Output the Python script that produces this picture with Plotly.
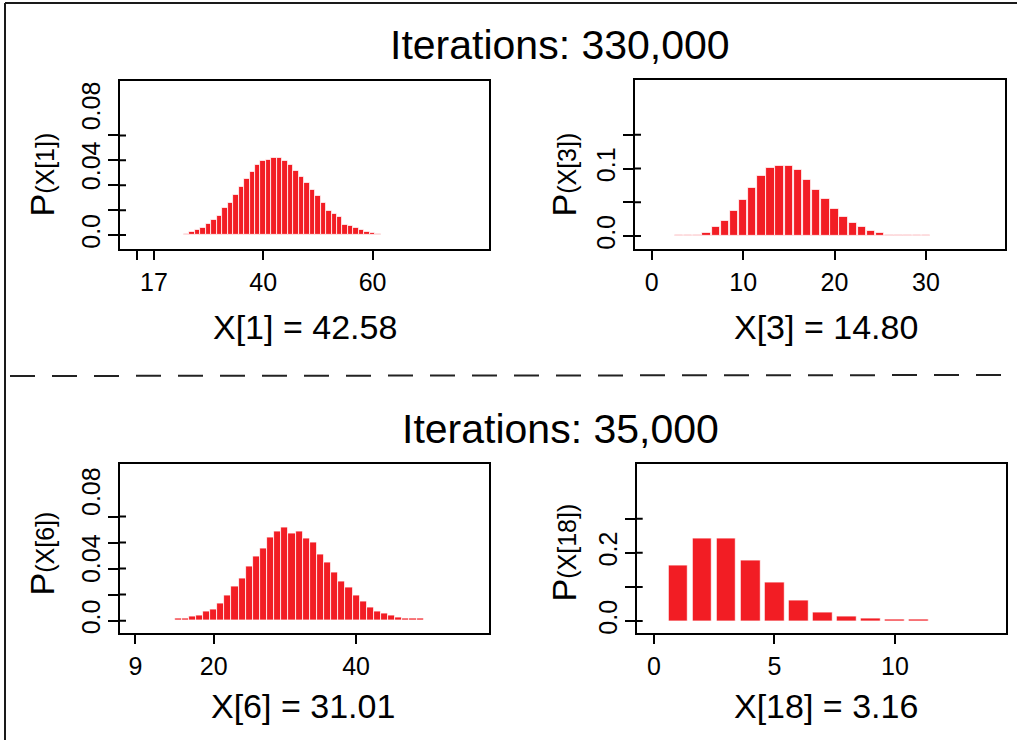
import plotly.graph_objects as go

W, H = 1017, 742
RED = "#F21D24"
FONT = "Liberation Sans, Arial, Helvetica, sans-serif"

# ---------------- data ----------------
titles = ["Iterations: 330,000", "Iterations: 35,000"]

x1_vals = list(range(26, 62))
p1 = [0.0010, 0.0027, 0.0043, 0.0060, 0.0088, 0.0123, 0.0155, 0.0216, 0.0260,
      0.0325, 0.0390, 0.0453, 0.0512, 0.0565, 0.0597, 0.0608, 0.0624, 0.0624,
      0.0597, 0.0565, 0.0515, 0.0467, 0.0420, 0.0363, 0.0312, 0.0260, 0.0197,
      0.0170, 0.0144, 0.0085, 0.0077, 0.0060, 0.0043, 0.0024, 0.0016, 0.0010]

x3_vals = list(range(3, 31))
p3 = [0.0025, 0.0025, 0.0025, 0.0054, 0.0143, 0.0227, 0.0374, 0.0542, 0.0719,
      0.0892, 0.1010, 0.1040, 0.1040, 0.0975, 0.0837, 0.0690, 0.0547, 0.0399,
      0.0286, 0.0192, 0.0138, 0.0079, 0.0054, 0.0025, 0.0025, 0.0025, 0.0022,
      0.0022]

x6_vals = list(range(15, 50))
p6 = [0.0015, 0.0015, 0.0030, 0.0043, 0.0074, 0.0089, 0.0133, 0.0194, 0.0265,
      0.0327, 0.0418, 0.0495, 0.0556, 0.0643, 0.0689, 0.0719, 0.0673, 0.0689,
      0.0628, 0.0599, 0.0508, 0.0446, 0.0372, 0.0298, 0.0253, 0.0194, 0.0151,
      0.0102, 0.0074, 0.0056, 0.0041, 0.0028, 0.0015, 0.0015, 0.0015]

x18_vals = list(range(1, 12))
p18 = [0.162, 0.242, 0.242, 0.178, 0.112, 0.060, 0.025, 0.013, 0.007, 0.006, 0.005]

x_titles = ["X[1] = 42.58", "X[3] = 14.80", "X[6] = 31.01", "X[18] = 3.16"]
y_names = ["(X[1])", "(X[3])", "(X[6])", "(X[18])"]

x1_tickvals = [17, 20, 40, 60]
x1_ticktext = ["", "17", "40", "60"]
x3_tickvals = [0, 10, 20, 30]
x3_ticktext = ["0", "10", "20", "30"]
x6_tickvals = [9, 20, 40]
x6_ticktext = ["9", "20", "40"]
x18_tickvals = [0, 5, 10]
x18_ticktext = ["0", "5", "10"]

y1_labelvals = [0.0, 0.0526, 0.1006]
y1_labeltext = ["0.0", "0.04", "0.08"]
y1_marks = [0.0, 0.02, 0.04, 0.06, 0.08]
y3_labelvals = [0.0, 0.1]
y3_labeltext = ["0.0", "0.1"]
y3_marks = [0.0, 0.05, 0.10, 0.15]
y6_labelvals = [0.0, 0.0447, 0.0962]
y6_labeltext = ["0.0", "0.04", "0.08"]
y6_marks = [0.0, 0.02, 0.04, 0.06, 0.08]
y18_labelvals = [0.0, 0.2]
y18_labeltext = ["0.0", "0.2"]
y18_marks = [0.0, 0.1, 0.2, 0.3]

# ---------------- layout helpers ----------------
def px_x(p):
    return p / W


def px_y(p):
    return 1 - p / H


def xax(dom, rng, tv, tt, anchor):
    return dict(domain=[px_x(dom[0]), px_x(dom[1])], range=rng, tickvals=tv, ticktext=tt,
                ticks="outside", ticklen=9, tickwidth=2, tickcolor="black",
                showline=True, linecolor="black", linewidth=2, mirror=True,
                showgrid=False, zeroline=False, anchor=anchor,
                ticklabelstandoff=1,
                tickfont=dict(size=25, family=FONT, color="black"))


def yax(dom, rng, lv, lt, marks, anchor):
    return dict(domain=[px_y(dom[1]), px_y(dom[0])], range=rng, tickvals=lv, ticktext=lt,
                ticks="outside", ticklen=8, tickcolor="rgba(0,0,0,0)", tickangle=-90,
                minor=dict(tickvals=marks, ticks="outside", ticklen=10, tickwidth=2,
                           tickcolor="black", showgrid=False),
                showline=True, linecolor="black", linewidth=2, mirror=True,
                showgrid=False, zeroline=False, anchor=anchor,
                tickfont=dict(size=25, family=FONT, color="black"))


fig = go.Figure()
bar_line = dict(color="white", width=0.8)
fig.add_trace(go.Bar(x=x1_vals, y=p1, width=1.0, marker=dict(color=RED, line=bar_line),
                     xaxis="x", yaxis="y", showlegend=False))
fig.add_trace(go.Bar(x=x3_vals, y=p3, width=0.92, marker=dict(color=RED, line=bar_line),
                     xaxis="x2", yaxis="y2", showlegend=False))
fig.add_trace(go.Bar(x=x6_vals, y=p6, width=1.0, marker=dict(color=RED, line=bar_line),
                     xaxis="x3", yaxis="y3", showlegend=False))
fig.add_trace(go.Bar(x=x18_vals, y=p18, width=0.82, marker=dict(color=RED, line=bar_line),
                     xaxis="x4", yaxis="y4", showlegend=False))

panels = [
    ((120, 489), (81, 250)),
    ((635, 1005), (80, 250)),
    ((120, 489), (465.7, 635)),
    ((636.7, 1005.7), (465.7, 634.3)),
]

fig.update_layout(
    width=W, height=H, margin=dict(l=0, r=0, t=0, b=0),
    paper_bgcolor="white", plot_bgcolor="white", bargap=0,
    font=dict(family=FONT, color="black"),
    xaxis=xax(panels[0][0], [13.8, 81.3], x1_tickvals, x1_ticktext, "y"),
    yaxis=yax(panels[0][1], [-0.0114, 0.1238], y1_labelvals, y1_labeltext, y1_marks, "x"),
    xaxis2=xax(panels[1][0], [-1.83, 38.65], x3_tickvals, x3_ticktext, "y2"),
    yaxis2=yax(panels[1][1], [-0.0196, 0.2315], y3_labelvals, y3_labeltext, y3_marks, "x2"),
    xaxis3=xax(panels[2][0], [6.84, 58.67], x6_tickvals, x6_ticktext, "y3"),
    yaxis3=yax(panels[2][1], [-0.0097, 0.12], y6_labelvals, y6_labeltext, y6_marks, "x3"),
    xaxis4=xax(panels[3][0], [-0.72, 14.6], x18_tickvals, x18_ticktext, "y4"),
    yaxis4=yax(panels[3][1], [-0.034, 0.459], y18_labelvals, y18_labeltext, y18_marks, "x4"),
)

ann = []
# panel titles
for t, (cx, cy) in zip(titles, [(560, 45), (560, 430)]):
    ann.append(dict(text=t, x=px_x(cx), y=px_y(cy), xref="paper", yref="paper",
                    showarrow=False, xanchor="center", yanchor="middle",
                    font=dict(size=41, family=FONT, color="black")))
# x titles
for t, (cx, cy) in zip(x_titles, [(305, 328), (826, 328), (303, 708), (826, 708)]):
    ann.append(dict(text=t, x=px_x(cx), y=px_y(cy), xref="paper", yref="paper",
                    showarrow=False, xanchor="center", yanchor="middle",
                    font=dict(size=34, family=FONT, color="black")))
# y titles
for t, (cx, cy) in zip(y_names, [(42, 175), (564, 175), (42, 555), (564, 554)]):
    ann.append(dict(text="P<span style='font-size:25px'>" + t + "</span>",
                    x=px_x(cx), y=px_y(cy), xref="paper", yref="paper", textangle=-90,
                    showarrow=False, xanchor="center", yanchor="middle",
                    font=dict(size=34, family=FONT, color="black")))
fig.update_layout(annotations=ann)

frame = dict(color="#1a1a1a", width=2)
shapes = [
    dict(type="line", xref="paper", yref="paper", x0=px_x(5), x1=px_x(5), y0=px_y(3), y1=px_y(742), line=frame),
    dict(type="line", xref="paper", yref="paper", x0=px_x(5), x1=px_x(1017), y0=px_y(3), y1=px_y(3), line=frame),
    dict(type="line", xref="paper", yref="paper", x0=px_x(10), x1=px_x(1017), y0=px_y(377), y1=px_y(376),
         line=dict(color="#222222", width=2, dash="25px,17px")),
]
# y tick marks cross slightly into the plot box (R-style), drawn from the mark arrays
all_marks = [y1_marks, y3_marks, y6_marks, y18_marks]
for i, (marks, (xd, yd)) in enumerate(zip(all_marks, panels)):
    sx = "x domain" if i == 0 else "x%d domain" % (i + 1)
    sy = "y" if i == 0 else "y%d" % (i + 1)
    inward = 6.0 / (xd[1] - xd[0])
    for m in marks:
        shapes.append(dict(type="line", xref=sx, yref=sy, x0=0, x1=inward, y0=m, y1=m,
                           line=dict(color="black", width=2)))
fig.update_layout(shapes=shapes)

fig.write_html("out.html", config={"displayModeBar": False},
               post_script="document.body.style.margin='0';document.body.style.overflow='hidden';")
